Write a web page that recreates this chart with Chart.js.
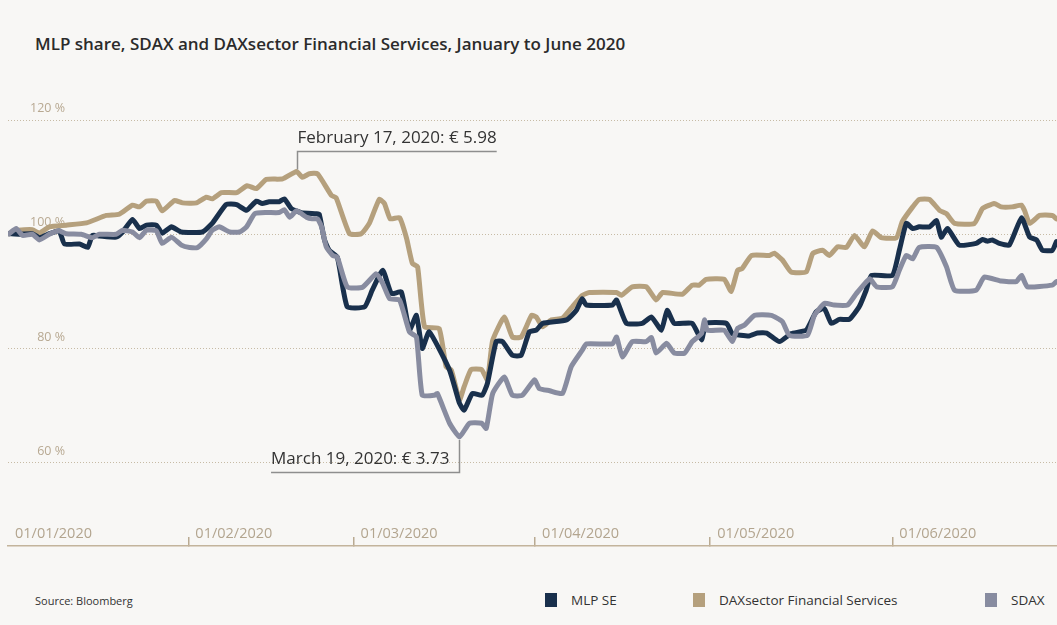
<!DOCTYPE html>
<html>
<head>
<meta charset="utf-8">
<title>MLP share, SDAX and DAXsector Financial Services</title>
<script src="https://cdn.jsdelivr.net/npm/chart.js@4.4.1/dist/chart.umd.min.js"></script>
<style>
  html, body { margin: 0; padding: 0; background: #f8f7f5; }
  body { width: 1057px; height: 625px; position: relative; overflow: hidden; font-family: "Open Sans", sans-serif; color: #2b2b2b; }
  .title { position: absolute; left: 35px; top: 32px; font-size: 17px; font-weight: 600; white-space: nowrap; }
  .chart-box { position: absolute; left: 0; top: 0; }
  .source { position: absolute; left: 35px; top: 593px; font-size: 11px; color: #333; }
  .legend-item { position: absolute; top: 591px; height: 18px; font-size: 13.5px; color: #333; display: flex; align-items: center; white-space: nowrap; }
  .legend-item .box { width: 12px; height: 14px; margin-right: 14px; }
</style>
</head>
<body>
<div class="title">MLP share, SDAX and DAXsector Financial Services, January to June 2020</div>
<div class="chart-box"><canvas class="js-chart" width="1057" height="560"></canvas></div>
<div class="source">Source: Bloomberg</div>
<div class="js-legend"></div>

<script>
// x values are days since 01/01/2020, y values are % of the 01/01 level
const tickDays = [0, 31, 59.4, 90.6, 120.7, 152];
const tickLabels = ['01/01/2020', '01/02/2020', '01/03/2020', '01/04/2020', '01/05/2020', '01/06/2020'];
const yTicks = [60, 80, 100, 120];

const mlpDays = [0.2, 2.0, 4.2, 5.4, 7.1, 8.8, 9.7, 12.3, 13.7, 14.5,
  15.7, 18.6, 19.7, 21.4, 22.6, 23.8, 25.5, 26.5, 28.1, 29.8,
  33.4, 35.1, 37.5, 39.3, 41.0, 42.7, 43.7, 44.9, 46.6, 47.5,
  48.7, 50.4, 53.0, 53.5, 54.4, 55.2, 56.6, 58.3, 61.3, 62.6,
  64.4, 65.9, 67.6, 69.0, 70.2, 71.2, 72.4, 75.9, 77.6, 78.4,
  79.8, 81.5, 82.4, 83.9, 85.0, 86.7, 88.2, 89.6, 90.8, 91.9,
  96.0, 97.7, 98.7, 99.4, 103.9, 104.6, 106.3, 109.0, 110.6, 112.3,
  113.3, 114.5, 117.6, 119.2, 120.0, 123.5, 124.5, 127.4, 128.8, 130.4,
  132.6, 134.6, 137.2, 138.9, 140.3, 141.5, 142.9, 144.6, 146.3, 147.5,
  148.4, 152.0, 153.2, 154.4, 155.5, 156.6, 158.4, 159.6, 160.4, 161.5,
  163.5, 166.4, 167.5, 168.3, 169.2, 170.4, 172.1, 174.2, 175.6, 176.8,
  177.8, 179.5, 180.2];
const mlpValues = [100.1, 100.0, 100.1, 99.4, 100.1, 100.6, 98.3, 98.3, 97.7, 99.8,
  99.7, 99.5, 100.4, 102.6, 101.0, 101.6, 101.6, 100.2, 101.3, 100.4,
  100.4, 101.9, 105.2, 105.2, 104.2, 105.8, 105.4, 105.7, 105.7, 106.2,
  104.5, 103.8, 103.6, 103.5, 99.0, 97.2, 96.0, 87.3, 87.3, 90.2,
  93.7, 89.6, 89.9, 83.2, 85.8, 80.0, 82.9, 76.2, 70.4, 69.2,
  72.1, 71.8, 73.9, 81.2, 81.2, 78.8, 78.8, 82.9, 83.2, 84.4,
  85.0, 86.7, 88.7, 87.6, 87.6, 88.5, 84.4, 84.4, 85.5, 83.2,
  86.7, 84.4, 84.4, 81.5, 84.4, 84.4, 82.6, 82.2, 82.7, 82.7,
  81.2, 82.6, 83.2, 86.4, 87.0, 84.4, 85.1, 85.1, 87.3, 90.2,
  92.8, 92.8, 97.2, 101.9, 101.0, 101.3, 101.3, 102.4, 99.5, 101.0,
  98.1, 98.4, 99.1, 98.8, 99.0, 98.4, 98.1, 102.9, 99.5, 99.0,
  97.2, 97.2, 98.7];

const daxDays = [0.2, 1.4, 4.2, 5.4, 7.1, 10.0, 13.5, 16.9, 19.1, 21.4,
  22.6, 23.8, 25.5, 26.5, 28.6, 30.0, 32.4, 34.1, 35.1, 36.7,
  39.3, 41.1, 42.7, 44.4, 47.2, 49.6, 50.6, 51.8, 53.2, 55.6,
  56.4, 58.7, 60.7, 62.1, 63.8, 64.7, 65.7, 67.3, 68.5, 69.5,
  70.4, 71.6, 74.1, 75.3, 76.2, 77.6, 78.4, 79.6, 81.4, 82.4,
  83.3, 85.3, 86.7, 88.2, 90.0, 90.8, 91.9, 93.4, 95.3, 97.0,
  98.7, 99.9, 104.6, 105.4, 107.3, 109.7, 111.4, 112.5, 115.9, 117.6,
  118.8, 120.0, 123.1, 124.3, 125.4, 126.2, 127.8, 130.9, 131.7, 133.1,
  134.6, 137.2, 138.3, 140.0, 141.2, 142.6, 144.1, 145.5, 147.2, 148.6,
  150.1, 152.7, 153.7, 155.5, 156.6, 158.4, 160.1, 161.3, 162.7, 166.1,
  167.5, 169.5, 170.7, 172.6, 174.2, 174.7, 175.6, 177.3, 179.5, 180.2];
const daxValues = [100.1, 100.7, 100.8, 100.2, 101.3, 101.6, 102.0, 103.3, 103.5, 105.1,
  104.8, 105.8, 105.8, 104.1, 105.9, 105.5, 105.5, 106.5, 106.2, 107.3,
  107.3, 108.5, 108.0, 109.6, 109.7, 111.0, 110.0, 110.6, 110.6, 106.8,
  106.4, 100.1, 100.1, 101.9, 106.1, 105.4, 102.7, 102.9, 99.3, 94.9,
  94.3, 83.8, 83.5, 76.8, 76.2, 71.0, 73.3, 76.3, 76.3, 74.5,
  81.4, 85.5, 82.0, 82.0, 85.8, 85.5, 83.8, 85.0, 85.3, 87.3,
  89.3, 89.8, 89.8, 89.3, 90.8, 90.8, 88.5, 89.8, 89.5, 91.1,
  91.1, 92.1, 92.1, 90.0, 93.7, 94.0, 96.3, 96.3, 96.7, 95.5,
  93.4, 93.4, 96.6, 97.2, 96.3, 97.8, 97.7, 99.8, 97.8, 100.6,
  99.4, 99.4, 102.2, 104.8, 106.1, 106.1, 104.2, 103.6, 101.9, 101.9,
  104.5, 105.4, 104.8, 104.8, 105.1, 104.2, 101.9, 103.3, 103.3, 102.7];

const sdaxDays = [0.2, 1.4, 2.5, 4.2, 5.4, 7.1, 8.8, 10.0, 12.6, 14.5,
  15.7, 18.6, 19.7, 21.4, 22.6, 23.8, 25.5, 26.5, 28.1, 29.8,
  31.2, 32.6, 34.1, 35.1, 36.3, 38.1, 39.8, 41.0, 42.4, 44.4,
  46.6, 47.5, 48.4, 49.6, 51.3, 52.3, 53.2, 53.9, 54.7, 55.8,
  56.6, 58.3, 60.9, 63.3, 64.4, 65.6, 67.3, 69.0, 70.2, 71.2,
  73.3, 73.8, 75.9, 77.6, 79.3, 81.4, 82.2, 83.3, 85.3, 86.7,
  88.4, 90.5, 91.3, 93.1, 95.3, 96.8, 98.7, 99.4, 103.9, 104.6,
  105.6, 107.3, 109.7, 110.6, 111.4, 113.2, 114.5, 116.3, 117.6, 119.2,
  119.7, 120.2, 123.1, 124.5, 125.4, 126.6, 128.3, 131.2, 133.1, 134.3,
  137.4, 138.6, 140.3, 142.0, 144.3, 145.8, 148.1, 149.3, 152.0, 153.2,
  154.4, 155.5, 156.6, 159.6, 161.3, 162.7, 166.4, 167.8, 170.7, 173.3,
  174.2, 175.2, 179.5, 180.2];
const sdaxValues = [100.1, 101.0, 99.8, 100.0, 99.0, 100.0, 100.6, 100.1, 100.0, 99.4,
  100.0, 100.0, 100.7, 100.4, 99.4, 100.7, 100.6, 98.4, 99.5, 98.1,
  97.7, 97.7, 99.2, 100.7, 101.3, 100.4, 100.4, 101.3, 103.6, 103.8,
  103.8, 104.3, 103.0, 104.1, 103.0, 102.7, 102.7, 101.3, 97.8, 96.3,
  96.0, 90.8, 90.7, 93.1, 91.4, 88.7, 88.5, 82.9, 82.0, 71.8,
  71.8, 72.1, 66.9, 64.5, 66.9, 66.9, 66.0, 72.1, 75.0, 71.8,
  71.8, 74.5, 73.0, 72.6, 72.1, 76.8, 79.7, 80.8, 80.8, 82.0,
  78.5, 81.2, 81.2, 81.9, 79.2, 80.9, 79.2, 79.2, 81.2, 82.6,
  85.0, 83.2, 83.2, 81.2, 83.5, 84.1, 85.8, 85.8, 84.7, 82.3,
  82.3, 85.8, 87.9, 87.6, 87.6, 89.6, 92.2, 90.8, 90.8, 93.7,
  96.3, 95.7, 97.7, 97.7, 94.3, 90.2, 90.2, 92.5, 91.8, 91.7,
  92.8, 90.8, 91.1, 91.7];

// callouts: MLP high and low, pinned to points on the lines
const calloutDays = [49.6, 77.6];
const calloutValues = [111, 64.5];
const calloutTexts = ['February 17, 2020: € 5.98', 'March 19, 2020: € 3.73'];

const legendLeft = [545, 693, 985];

function toPoints(days, values) {
  return days.map((d, i) => ({ x: d, y: values[i] }));
}

const calloutPlugin = {
  id: 'callouts',
  afterDatasetsDraw(chart) {
    const { ctx, scales: { x, y } } = chart;
    ctx.save();
    ctx.strokeStyle = '#8e8e8e';
    ctx.lineWidth = 1.5;
    ctx.fillStyle = '#333';
    ctx.font = '17px "Open Sans"';
    ctx.textBaseline = 'alphabetic';

    // high: line goes up from the peak, text sits on a rule to the right
    let px = Math.round(x.getPixelForValue(calloutDays[0])) + 0.5;
    let py = y.getPixelForValue(calloutValues[0]);
    let ly = Math.round(py - 20.5) + 0.5;
    let w = ctx.measureText(calloutTexts[0]).width;
    ctx.beginPath();
    ctx.moveTo(px, py - 2);
    ctx.lineTo(px, ly);
    ctx.lineTo(px + w, ly);
    ctx.stroke();
    ctx.fillText(calloutTexts[0], px, ly - 8.5);

    // low: line goes down from the trough, text sits on a rule to the left
    px = Math.round(x.getPixelForValue(calloutDays[1])) + 0.5;
    py = y.getPixelForValue(calloutValues[1]);
    ly = Math.round(py + 35) + 0.5;
    w = ctx.measureText(calloutTexts[1]).width;
    ctx.beginPath();
    ctx.moveTo(px, py + 3);
    ctx.lineTo(px, ly);
    ctx.lineTo(px - w - 10, ly);
    ctx.stroke();
    ctx.fillText(calloutTexts[1], px - w - 10, ly - 9);
    ctx.restore();
  }
};

const ctx = document.querySelector('.js-chart').getContext('2d');

const chart = new Chart(ctx, {
  type: 'line',
  data: {
    datasets: [{
      label: 'MLP SE',
      data: toPoints(mlpDays, mlpValues),
      borderColor: '#19304c',
      backgroundColor: '#19304c',
      order: 1
    }, {
      label: 'DAXsector Financial Services',
      data: toPoints(daxDays, daxValues),
      borderColor: '#b5a07d',
      backgroundColor: '#b5a07d',
      order: 2
    }, {
      label: 'SDAX',
      data: toPoints(sdaxDays, sdaxValues),
      borderColor: '#888ca0',
      backgroundColor: '#888ca0',
      order: 0
    }]
  },
  options: {
    responsive: false,
    animation: false,
    layout: { padding: { left: 8, right: 0, top: 63, bottom: 13 } },
    elements: {
      point: { radius: 0 },
      line: { borderWidth: 5, tension: 0.15, borderJoinStyle: 'round', borderCapStyle: 'round' }
    },
    plugins: {
      legend: { display: false },
      tooltip: { enabled: false }
    },
    scales: {
      x: {
        type: 'linear',
        position: 'bottom',
        min: 0,
        max: 180.3,
        afterBuildTicks(axis) {
          axis.ticks = tickDays.map(v => ({ value: v }));
        },
        ticks: {
          mirror: true,
          align: 'start',
          padding: 5,
          labelOffset: 7,
          autoSkip: false,
          maxRotation: 0,
          color: '#b3a58f',
          font: { family: 'Open Sans', size: 14.5, lineHeight: 1 },
          callback(value, index) {
            return tickLabels[index];
          }
        },
        grid: {
          drawOnChartArea: false,
          drawTicks: true,
          tickLength: -9,
          lineWidth: 1.5,
          color: c => (c.index === 0 ? 'rgba(0,0,0,0)' : '#b9aa92')
        },
        border: { display: true, color: '#c3b49c', width: 1.5 }
      },
      y: {
        type: 'linear',
        min: 45.4,
        max: 130,
        position: { x: 9.8 },
        afterBuildTicks(axis) {
          axis.ticks = yTicks.map(v => ({ value: v }));
        },
        ticks: {
          padding: 0,
          labelOffset: -11.5,
          color: '#b8a992',
          font: { family: 'Open Sans', size: 12.5 },
          callback(value) {
            return value + ' %';
          }
        },
        grid: { drawTicks: false, color: '#c7bba5', lineWidth: 1 },
        border: { display: false, dash: [1, 2] }
      }
    }
  },
  plugins: [calloutPlugin]
});

// legend in the page, from the chart's own datasets
const legendBox = document.querySelector('.js-legend');
chart.data.datasets.forEach((ds, i) => {
  const item = document.createElement('div');
  item.className = 'legend-item';
  item.style.left = legendLeft[i] + 'px';
  item.innerHTML = '<span class="box" style="background:' + ds.borderColor + '"></span>' + ds.label;
  legendBox.appendChild(item);
});
</script>
</body>
</html>
